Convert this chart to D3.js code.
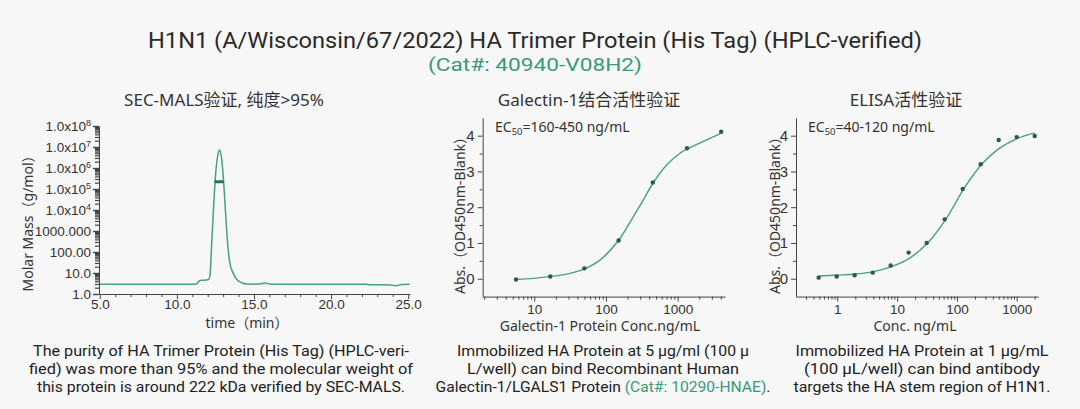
<!DOCTYPE html>
<html><head><meta charset="utf-8">
<script src="https://cdn.jsdelivr.net/npm/d3@7"></script>
<style>
html,body{margin:0;padding:0;background:#f7f7f7;}
svg{display:block;font-family:"Noto Sans","Noto Sans CJK SC",sans-serif;}
</style></head><body>
<svg id="c" width="1080" height="409"></svg>
<script>
// ---------- data ----------
const secTime = [5.0, 10.9, 11.25, 11.5, 11.9, 12.05, 12.14, 12.25, 12.36, 12.47, 12.58, 12.68, 12.77, 12.9, 13.01, 13.12, 13.23, 13.33, 13.44, 13.66, 13.88, 14.2, 14.53, 15.0, 15.4, 15.7, 16.0, 16.5, 20.0, 22.3, 22.5, 23.9, 24.2, 24.6, 25.1];
const secMass = [2.9, 2.9, 3.0, 4.4, 4.6, 4.9, 6.7, 178, 6900, 186000, 1670000, 5000000, 7200000, 2900000, 390000, 21000, 1120, 125, 29, 9.6, 5.0, 3.45, 3.0, 2.95, 3.0, 3.3, 3.0, 2.9, 2.9, 2.9, 2.75, 2.7, 2.45, 2.85, 2.9];
const secBarTime = [12.44, 13.05];
const secBarMass = [222000, 222000];
const secXTicks = [5, 10, 15, 20, 25];
const secXTickLabels = ["5.0", "10.0", "15.0", "20.0", "25.0"];
const secYTicks = [1, 10, 100, 1000, 1e4, 1e5, 1e6, 1e7, 1e8];
const secYTickLabels = ["1.0", "10.0", "100.00", "1000.000", "1.0x10^4", "1.0x10^5", "1.0x10^6", "1.0x10^7", "1.0x10^8"];

const galConc = [5.56, 16.7, 50, 150, 450, 1350, 4050];
const galAbs = [-0.02, 0.06, 0.29, 1.07, 2.69, 3.65, 4.11];
const galFitConc = [5.56, 9.7, 16.2, 28.3, 49.3, 82.4, 145.5, 240, 331, 452, 702, 1076, 1652, 2530, 4050];
const galFitAbs = [-0.02, 0.01, 0.06, 0.13, 0.27, 0.52, 1.04, 1.73, 2.20, 2.67, 3.18, 3.51, 3.71, 3.88, 4.07];
const galXTicks = [10, 100, 1000];

const elisaConc = [0.488, 0.977, 1.95, 3.91, 7.81, 15.6, 31.25, 62.5, 125, 250, 500, 1000, 2000];
const elisaAbs = [0.03, 0.06, 0.095, 0.17, 0.37, 0.73, 1.0, 1.66, 2.51, 3.20, 3.88, 3.96, 3.99];
const elisaFitConc = [0.488, 0.98, 2.0, 4.0, 8.1, 16, 32, 64, 87, 130, 188, 260, 520, 1050, 2000];
const elisaFitAbs = [0.075, 0.10, 0.13, 0.20, 0.34, 0.57, 0.99, 1.64, 2.01, 2.51, 2.90, 3.20, 3.65, 3.93, 4.08];
const elisaXTicks = [1, 10, 100, 1000];

const absYTicks = [0, 1, 2, 3, 4];
const absYMinor = [0.5, 1.5, 2.5, 3.5];

// ---------- styles ----------
const C_TEXT = "#333";
const C_AXIS = "#444";
const C_GREEN = "#3a9a78";
const C_LINE = "#48a086";
const C_PT = "#2b5a4c";
const F_CAP = "Roboto, 'Noto Sans', sans-serif";

const svg = d3.select("#c");
svg.append("rect").attr("width", 1080).attr("height", 409).attr("fill", "#f7f7f7");

// Title
svg.append("text").attr("x", 535).attr("y", 47.5).attr("text-anchor", "middle")
  .attr("font-family", F_CAP).attr("font-size", 22).attr("font-weight", 400).attr("fill", "#2a2a2a")
  .attr("textLength", 774).attr("lengthAdjust", "spacingAndGlyphs")
  .text("H1N1 (A/Wisconsin/67/2022) HA Trimer Protein (His Tag) (HPLC-verified)");
svg.append("text").attr("x", 535).attr("y", 70.5).attr("text-anchor", "middle")
  .attr("font-family", F_CAP).attr("font-size", 17.5).attr("fill", C_GREEN)
  .attr("textLength", 214).attr("lengthAdjust", "spacingAndGlyphs")
  .text("(Cat#: 40940-V08H2)");

function styleAxis(g) {
  g.select(".domain").attr("stroke", C_AXIS);
  g.selectAll(".tick line").attr("stroke", C_AXIS);
  g.selectAll(".tick text").attr("fill", C_TEXT).attr("font-family", null);
}
function logMinors(lo, hi, majors) {
  const out = [];
  for (let e = Math.floor(Math.log10(lo)); e <= Math.ceil(Math.log10(hi)); e++) {
    for (let k = 1; k < 10; k++) {
      const v = k * Math.pow(10, e);
      if (v >= lo && v <= hi && !majors.includes(v)) out.push(v);
    }
  }
  return out;
}

// ---------- Panel 1: SEC-MALS ----------
(function () {
  const x = d3.scaleLinear().domain([4.95, 25.12]).range([99, 410]);
  const y = d3.scaleLog().domain([1, 1e8]).range([294, 126]);
  const g = svg.append("g");

  g.append("text").attr("x", 224).attr("y", 106).attr("text-anchor", "middle")
    .attr("font-size", 17).attr("fill", C_TEXT).text("SEC-MALS验证, 纯度>95%");

  // x axis
  const xMinor = d3.range(6, 26).filter(v => !secXTicks.includes(v));
  const gxm = g.append("g").attr("transform", "translate(0,294)")
    .call(d3.axisBottom(x).tickValues(xMinor).tickSize(3).tickFormat(""));
  gxm.select(".domain").remove();
  gxm.selectAll(".tick line").attr("stroke", C_AXIS);
  const gx = g.append("g").attr("transform", "translate(0,294)")
    .call(d3.axisBottom(x).tickValues(secXTicks).tickSize(5).tickSizeOuter(0).tickPadding(0)
      .tickFormat((d, i) => secXTickLabels[i]));
  gx.attr("font-size", 13.5); styleAxis(gx);

  // y axis
  const gym = g.append("g").attr("transform", "translate(99,0)")
    .call(d3.axisLeft(y).tickValues(logMinors(1, 1e8, secYTicks)).tickSize(4).tickFormat(""));
  gym.select(".domain").remove();
  gym.selectAll(".tick line").attr("stroke", C_AXIS).attr("stroke-width", 1.2);
  const gy = g.append("g").attr("transform", "translate(99,0)")
    .call(d3.axisLeft(y).tickValues(secYTicks).tickSize(6).tickSizeOuter(0).tickPadding(2)
      .tickFormat((d, i) => secYTickLabels[i]));
  gy.attr("font-size", 13.5); styleAxis(gy);
  gy.selectAll(".tick line").attr("stroke-width", 1.4);
  gy.selectAll(".tick text").each(function () {
    const t = d3.select(this); const s = t.text();
    if (s.includes("^")) {
      const [base, ex] = s.split("^");
      t.text(null);
      t.append("tspan").text(base);
      t.append("tspan").attr("dy", -5).attr("font-size", 9).text(ex);
    }
  });

  g.append("text").attr("transform", "translate(33,220) rotate(-90)").attr("text-anchor", "middle")
    .attr("font-size", 14).attr("fill", C_TEXT).text("Molar Mass（g/mol）");
  g.append("text").attr("x", 247).attr("y", 328).attr("text-anchor", "middle")
    .attr("font-size", 14).attr("fill", C_TEXT).text("time（min）");

  const line = d3.line().x(d => x(d[0])).y(d => y(d[1])).curve(d3.curveMonotoneX);
  g.append("path").datum(d3.zip(secTime, secMass)).attr("d", line)
    .attr("fill", "none").attr("stroke", C_LINE).attr("stroke-width", 1.5);
  g.append("path").datum(d3.zip(secBarTime, secBarMass)).attr("d", d3.line().x(d => x(d[0])).y(d => y(d[1])))
    .attr("fill", "none").attr("stroke", "#1f7a5c").attr("stroke-width", 3);
})();

// ---------- dose-response panels ----------
function dosePanel(o) {
  const x = d3.scaleLog().domain(o.xDomain).range(o.xRange);
  const y = d3.scaleLinear().domain([-0.5, 4.5]).range([296.6, 117.8]);
  const g = svg.append("g");
  const x0 = o.xRange[0];

  g.append("text").attr("x", o.titleX).attr("y", 106).attr("text-anchor", "middle")
    .attr("font-size", 17).attr("fill", C_TEXT).text(o.title);

  const gxm = g.append("g").attr("transform", "translate(0,296.6)")
    .call(d3.axisBottom(x).tickValues(logMinors(o.xDomain[0], o.xDomain[1], o.xTicks)).tickSize(3).tickFormat(""));
  gxm.select(".domain").remove();
  gxm.selectAll(".tick line").attr("stroke", C_AXIS);
  const gx = g.append("g").attr("transform", "translate(0,296.6)")
    .call(d3.axisBottom(x).tickValues(o.xTicks).tickSize(5).tickSizeOuter(0).tickPadding(3)
      .tickFormat(d3.format("d")));
  gx.attr("font-size", 13.5); styleAxis(gx);

  const gym = g.append("g").attr("transform", `translate(${x0},0)`)
    .call(d3.axisLeft(y).tickValues(absYMinor).tickSize(3).tickFormat(""));
  gym.select(".domain").remove();
  gym.selectAll(".tick line").attr("stroke", C_AXIS);
  const gy = g.append("g").attr("transform", `translate(${x0},0)`)
    .call(d3.axisLeft(y).tickValues(absYTicks).tickSize(5).tickSizeOuter(0).tickPadding(3)
      .tickFormat(d3.format("d")));
  gy.attr("font-size", 15); styleAxis(gy);

  g.append("text").attr("transform", `translate(${o.yLabelX},212) rotate(-90)`).attr("text-anchor", "middle")
    .attr("font-size", 14).attr("fill", C_TEXT).text("Abs.（OD450nm-Blank）");
  g.append("text").attr("x", o.xLabelX).attr("y", 331).attr("text-anchor", "middle")
    .attr("font-size", 14).attr("fill", C_TEXT).text(o.xLabel);

  const ec = g.append("text").attr("x", o.ecX).attr("y", 131.5).attr("font-size", 14).attr("fill", C_TEXT);
  ec.append("tspan").text("EC");
  ec.append("tspan").attr("font-size", 9.5).attr("dy", 3).text("50");
  ec.append("tspan").attr("dy", -3).text(o.ecText);

  const line = d3.line().x(d => x(d[0])).y(d => y(d[1])).curve(d3.curveCatmullRom.alpha(0.5));
  g.append("path").datum(d3.zip(o.fitConc, o.fitAbs)).attr("d", line)
    .attr("fill", "none").attr("stroke", C_LINE).attr("stroke-width", 1.4);
  g.selectAll("circle").data(d3.zip(o.conc, o.abs)).join("circle")
    .attr("cx", d => x(d[0])).attr("cy", d => y(d[1])).attr("r", 2.2).attr("fill", C_PT);
}

dosePanel({
  xDomain: [1.907, 4573], xRange: [482.7, 725], xTicks: galXTicks,
  conc: galConc, abs: galAbs, fitConc: galFitConc, fitAbs: galFitAbs,
  title: "Galectin-1结合活性验证", titleX: 589,
  xLabel: "Galectin-1 Protein Conc.ng/mL", xLabelX: 600, yLabelX: 465,
  ecX: 495, ecText: "=160-450 ng/mL"
});
dosePanel({
  xDomain: [0.204, 2296], xRange: [796, 1038.3], xTicks: elisaXTicks,
  conc: elisaConc, abs: elisaAbs, fitConc: elisaFitConc, fitAbs: elisaFitAbs,
  title: "ELISA活性验证", titleX: 906,
  xLabel: "Conc. ng/mL", xLabelX: 915, yLabelX: 780,
  ecX: 808, ecText: "=40-120 ng/mL"
});

// ---------- captions ----------
function caption(cx, lines, widths) {
  lines.forEach((parts, i) => {
    const t = svg.append("text").attr("x", cx).attr("y", 356 + i * 17.8).attr("text-anchor", "middle")
      .attr("font-family", F_CAP).attr("font-size", 15).attr("fill", "#222")
      .attr("textLength", widths[i]).attr("lengthAdjust", "spacingAndGlyphs");
    parts.forEach(p => t.append("tspan").attr("fill", p[1] || "#222").text(p[0]));
  });
}
caption(221, [
  [["The purity of HA Trimer Protein (His Tag) (HPLC-veri-"]],
  [["fied) was more than 95% and the molecular weight of"]],
  [["this protein is around 222 kDa verified by SEC-MALS."]]
], [376, 384, 368]);
caption(603, [
  [["Immobilized HA Protein at 5 μg/ml (100 μ"]],
  [["L/well) can bind Recombinant Human"]],
  [["Galectin-1/LGALS1 Protein "], ["(Cat#: 10290-HNAE)", C_GREEN], ["."]]
], [292, 272, 335]);
caption(922, [
  [["Immobilized HA Protein at 1 μg/mL"]],
  [["(100 μL/well) can bind antibody"]],
  [["targets the HA stem region of H1N1."]]
], [253, 236, 257]);
</script>
</body></html>
